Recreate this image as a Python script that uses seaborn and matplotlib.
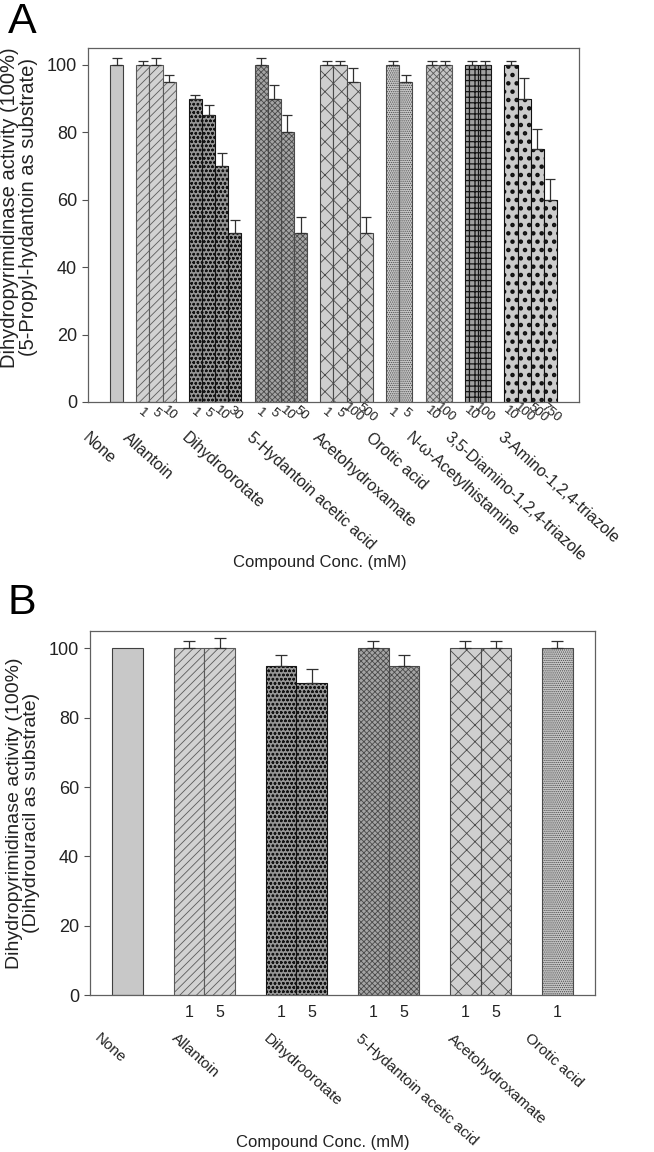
import numpy as np
import pandas as pd
import seaborn as sns
import matplotlib.pyplot as plt
from matplotlib import transforms

# Panel A: 5-propyl-hydantoin as substrate
a_compounds = ['None', 'Allantoin', 'Dihydroorotate', '5-Hydantoin acetic acid',
               'Acetohydroxamate', 'Orotic acid', 'N-ω-Acetylhistamine',
               '3,5-Diamino-1,2,4-triazole', '3-Amino-1,2,4-triazole']
a_conc = [[''], ['1', '5', '10'], ['1', '5', '10', '30'], ['1', '5', '10', '50'],
          ['1', '5', '100', '500'], ['1', '5'], ['10', '100'], ['10', '100'],
          ['10', '100', '500', '750']]
a_activity = [[100], [100, 100, 95], [90, 85, 70, 50], [100, 90, 80, 50],
              [100, 100, 95, 50], [100, 95], [100, 100], [100, 100],
              [100, 90, 75, 60]]
a_error = [[2], [1, 2, 2], [1, 3, 4, 4], [2, 4, 5, 5], [1, 1, 4, 5], [1, 2],
           [1, 1], [1, 1], [1, 6, 6, 6]]

# Panel B: dihydrouracil as substrate
b_compounds = ['None', 'Allantoin', 'Dihydroorotate', '5-Hydantoin acetic acid',
               'Acetohydroxamate', 'Orotic acid']
b_conc = [[''], ['1', '5'], ['1', '5'], ['1', '5'], ['1', '5'], ['1']]
b_activity = [[100], [100, 100], [95, 90], [100, 95], [100, 100], [100]]
b_error = [[0], [2, 3], [3, 4], [2, 3], [2, 2], [2]]

# fill colour, hatch, hatch/edge colour, hatch width per compound
styles = {
    'None': ('#c8c8c8', '', '#404040', 0.6),
    'Allantoin': ('#d2d2d2', '////', '#5a5a5a', 0.6),
    'Dihydroorotate': ('#969696', 'oooo', '#151515', 0.7),
    '5-Hydantoin acetic acid': ('#a4a4a4', 'xxxxxx', '#4a4a4a', 0.6),
    'Acetohydroxamate': ('#cfcfcf', 'xx', '#4a4a4a', 0.6),
    'Orotic acid': ('#c8c8c8', '........', '#4a4a4a', 0.6),
    'N-ω-Acetylhistamine': ('#c4c4c4', 'xxxxx', '#5a5a5a', 0.6),
    '3,5-Diamino-1,2,4-triazole': ('#a0a0a0', '+++', '#151515', 0.9),
    '3-Amino-1,2,4-triazole': ('#cccccc', '..', '#101010', 2.0),
}

sns.set_style('ticks')
plt.rcParams['font.family'] = ['Liberation Sans', 'DejaVu Sans']
plt.rcParams['hatch.linewidth'] = 0.6
txt = '#222222'


def panel(ax, compounds, conc, activity, error, margin, conc_kw, name_dy,
          name_size, capsize):
    rows, order = [], []
    for i, c in enumerate(compounds):
        if i > 0:
            order.append(f'gap{i}')
        for j, (k, v, e) in enumerate(zip(conc[i], activity[i], error[i])):
            slot = f'{i}-{j}'
            order.append(slot)
            rows.append(dict(compound=c, conc=k, slot=slot, activity=v, err=e))
    df = pd.DataFrame(rows)
    df['pos'] = [order.index(s) for s in df['slot']]

    sns.barplot(data=df, x='slot', y='activity', order=order, hue='compound',
                hue_order=compounds, dodge=False, width=1.0, errorbar=None,
                legend=False, palette={c: styles[c][0] for c in compounds},
                linewidth=0.8, ax=ax)
    lookup = df.set_index('pos')
    for p in ax.patches:
        pos = int(round(p.get_x() + p.get_width() / 2))
        if pos not in lookup.index:
            continue
        face, hatch, ec, hlw = styles[lookup.loc[pos, 'compound']]
        p.set_hatch(hatch)
        p.set_edgecolor(ec)
        p.set_zorder(2)
        if hasattr(p, 'set_hatch_linewidth'):
            p.set_hatch_linewidth(hlw)

    e = df[df['err'] > 0]
    ax.errorbar(e['pos'], e['activity'], yerr=[np.zeros(len(e)), e['err']],
                fmt='none', ecolor='#303030', elinewidth=0.9, capsize=capsize,
                capthick=0.9, zorder=3)

    ax.set_xlim(-0.5 - margin, len(order) - 0.5 + margin)
    ax.set_ylim(0, 105)
    ax.set_yticks([0, 20, 40, 60, 80, 100])
    ax.set_xticks(range(len(order)))
    labels = ['' if s.startswith('gap') else lookup.loc[order.index(s), 'conc'] for s in order]
    ax.set_xticklabels(labels, color=txt, **conc_kw)
    ax.tick_params(axis='x', length=0)
    ax.tick_params(axis='y', length=4, width=0.8, color='#505050', labelsize=13,
                   labelcolor=txt, pad=4)
    ax.set_xlabel('')
    for s in ax.spines.values():
        s.set_visible(True)
        s.set_color('#606060')
        s.set_linewidth(0.9)

    # compound names under each group
    tr = transforms.blended_transform_factory(ax.transData, ax.transAxes)
    for c, g in df.groupby('compound', sort=False):
        center = g['pos'].mean()
        ax.annotate(c, xy=(center, 0), xycoords=tr, xytext=(-19, name_dy),
                    textcoords='offset points', rotation=-42,
                    rotation_mode='anchor', ha='left', va='top',
                    fontsize=name_size, color=txt, annotation_clip=False)


fig = plt.figure(figsize=(6.54, 11.52), dpi=100)
ax_a = fig.add_axes([88 / 654, 1 - 402 / 1152, 491 / 654, 354 / 1152])
ax_b = fig.add_axes([90 / 654, 1 - 995 / 1152, 505 / 654, 364 / 1152])

panel(ax_a, a_compounds, a_conc, a_activity, a_error, 1.67,
      dict(fontsize=9.5, rotation=-40, ha='center', va='center',
           rotation_mode='anchor'), -20, 11.5, 3.6)
ax_a.tick_params(axis='x', pad=8)
panel(ax_b, b_compounds, b_conc, b_activity, b_error, 0.73,
      dict(fontsize=11.5), -26, 11, 4.3)
ax_b.tick_params(axis='x', pad=7)

ax_a.set_ylabel('Dihydropyrimidinase activity (100%)\n(5-Propyl-hydantoin as substrate)',
                fontsize=14.5, color=txt, linespacing=1.0)
ax_a.yaxis.set_label_coords(-0.102, 0.55)
ax_b.set_ylabel('Dihydropyrimidinase activity (100%)\n(Dihydrouracil as substrate)',
                fontsize=14, color=txt, linespacing=1.0)
ax_b.yaxis.set_label_coords(-0.099, 0.5)

ax_a.text(0.472, -0.452, 'Compound Conc. (mM)', transform=ax_a.transAxes,
          ha='center', va='center', fontsize=12, color=txt)
ax_b.text(0.461, -0.404, 'Compound Conc. (mM)', transform=ax_b.transAxes,
          ha='center', va='center', fontsize=12, color=txt)

fig.text(0.012, 1 - 33 / 1152, 'A', fontsize=31, color='black', va='baseline')
fig.text(0.012, 1 - 614 / 1152, 'B', fontsize=31, color='black', va='baseline')

fig.savefig('out.png', dpi=100)
